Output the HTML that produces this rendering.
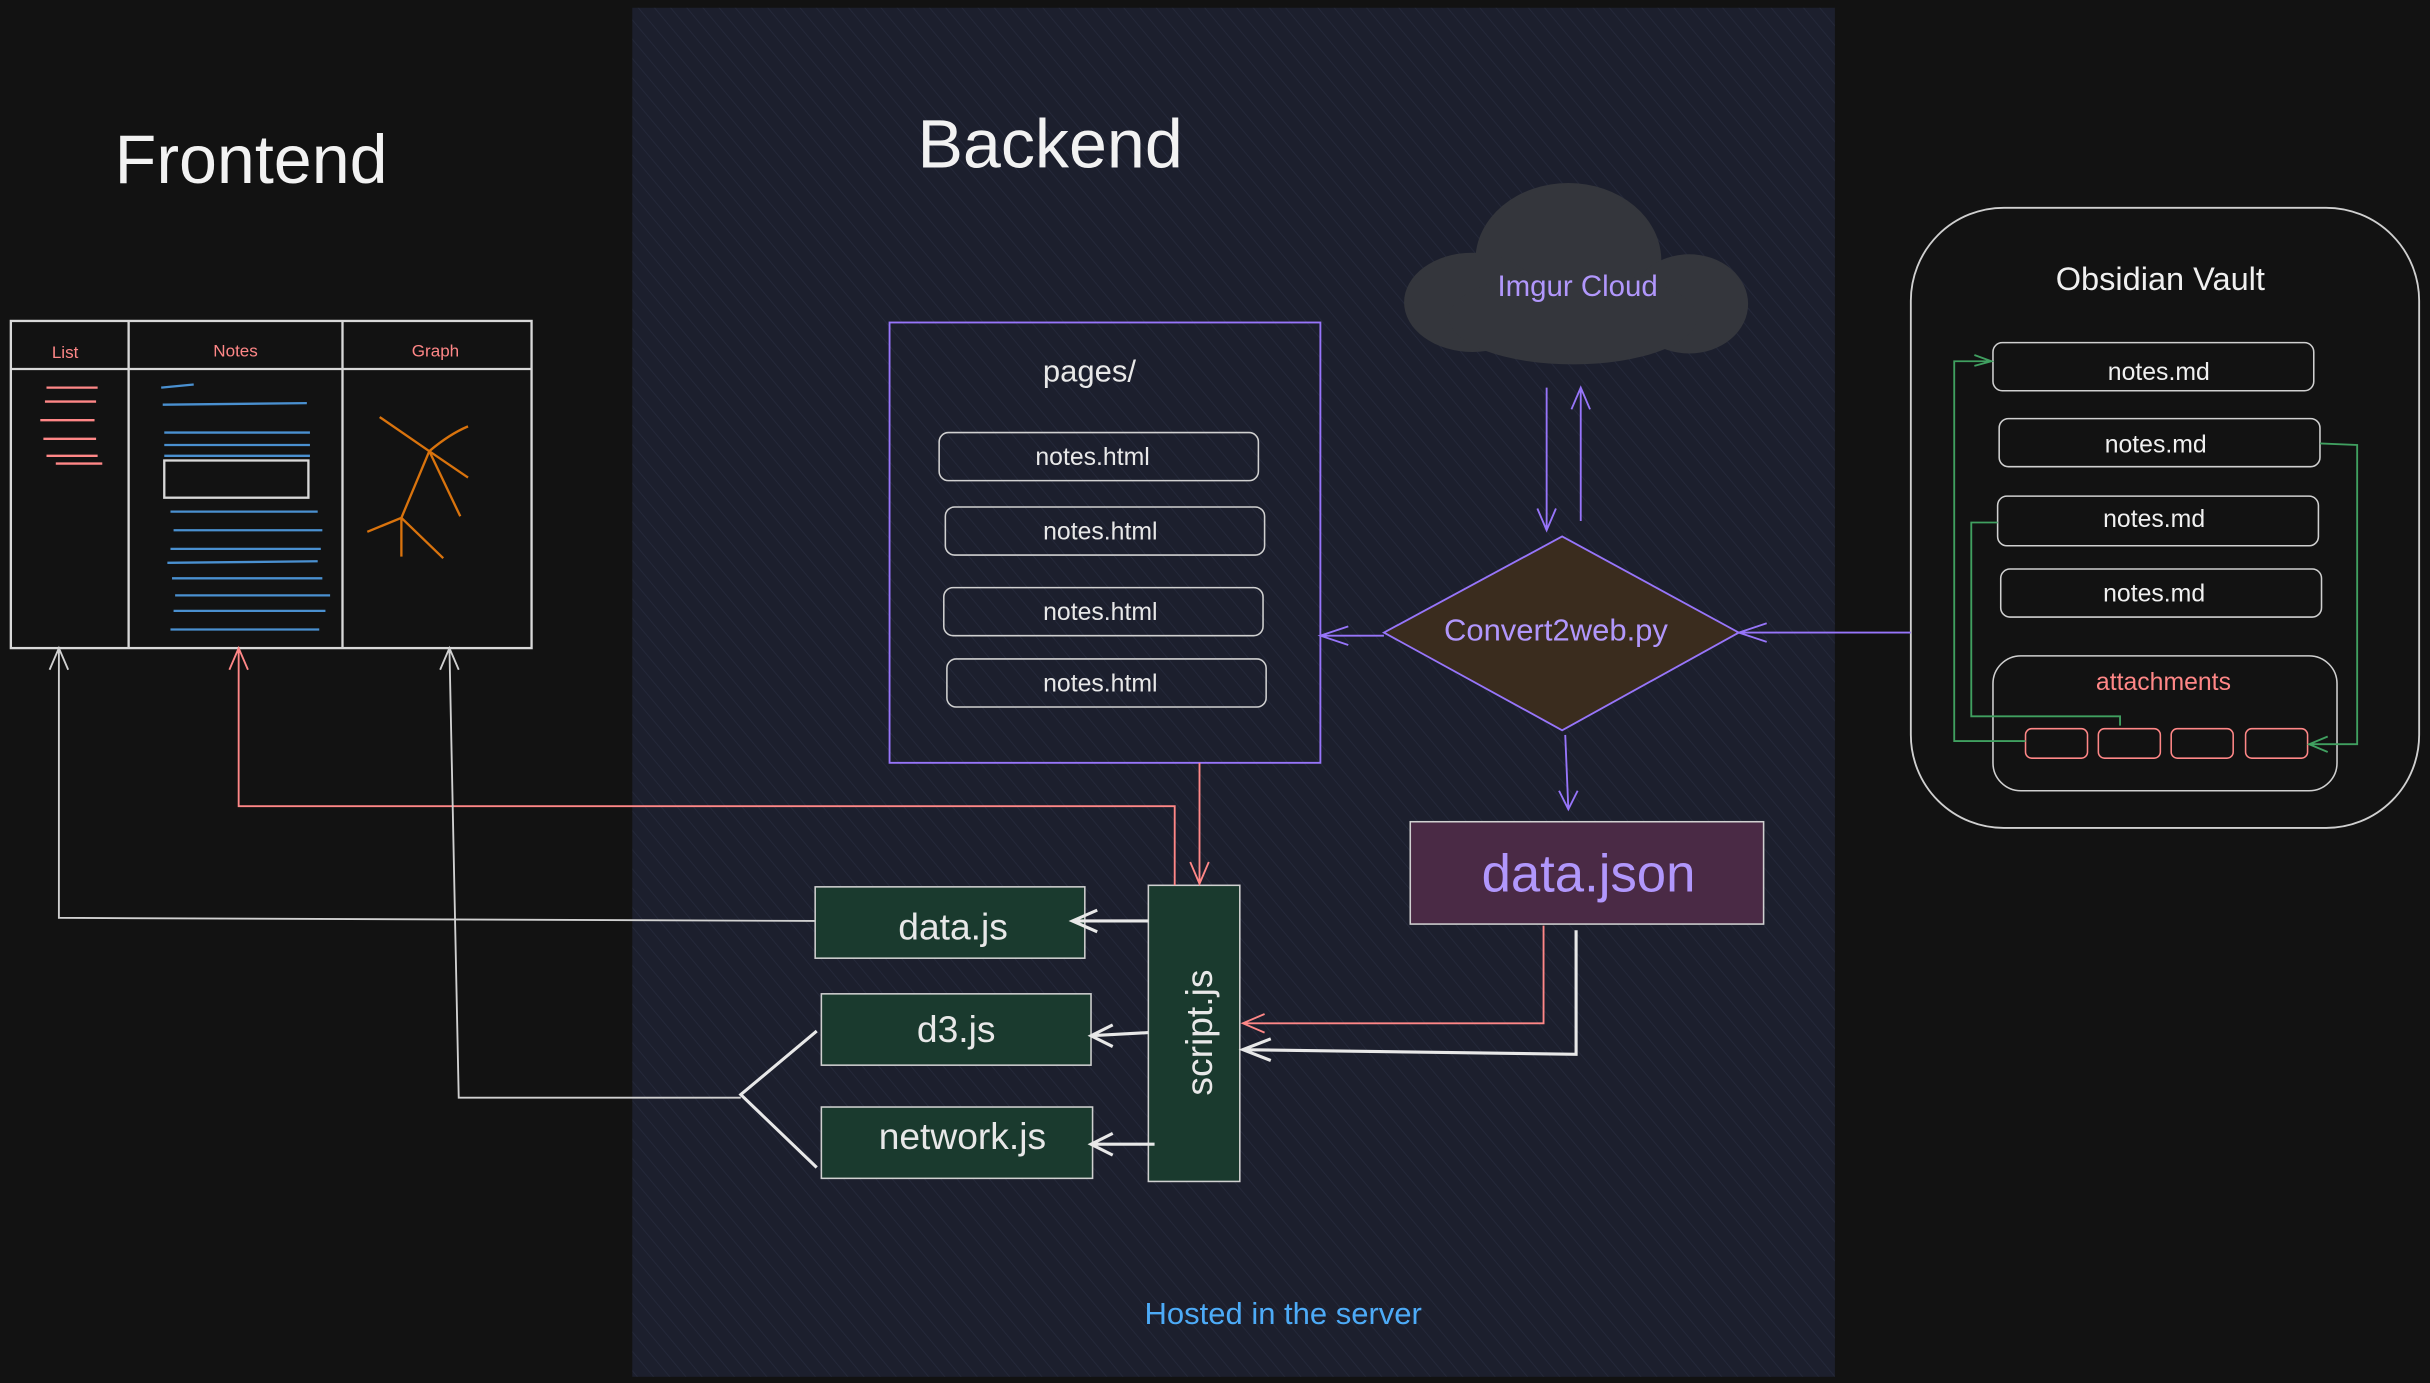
<!DOCTYPE html>
<html><head><meta charset="utf-8"><style>
html,body{margin:0;padding:0;background:#121212;}
svg{display:block;}
text{font-family:"Liberation Sans",sans-serif;}
</style></head><body>
<svg width="2430" height="1383" viewBox="0 0 1568 892" preserveAspectRatio="none" xmlns="http://www.w3.org/2000/svg">
<defs>
<pattern id="hatch" width="8" height="8" patternUnits="userSpaceOnUse" patternTransform="rotate(-40)">
<rect width="8" height="8" fill="#1c1f2d"/>
<line x1="0" y1="0" x2="0" y2="8" stroke="#262a3c" stroke-width="1"/>
</pattern>
</defs>
<rect width="1568" height="892" fill="#121212"/>
<rect x="408" y="5" width="776" height="883" fill="url(#hatch)"/>

<text x="74" y="118" font-size="44" fill="#f2f2f2">Frontend</text>
<text x="592" y="108" font-size="44" fill="#f2f2f2">Backend</text>

<!-- frontend -->
<g fill="none" stroke="#d8d8d8" stroke-width="1.5">
<rect x="7" y="207" width="336" height="211"/>
<line x1="7" y1="238" x2="343" y2="238"/>
<line x1="83" y1="207" x2="83" y2="418"/>
<line x1="221" y1="207" x2="221" y2="418"/>
<rect x="106" y="297" width="93" height="24"/>
</g>
<text x="42" y="231" font-size="11" fill="#ff8787" text-anchor="middle">List</text>
<text x="152" y="230" font-size="11" fill="#ff8787" text-anchor="middle">Notes</text>
<text x="281" y="230" font-size="11" fill="#ff8787" text-anchor="middle">Graph</text>
<g stroke="#ff8787" stroke-width="1.5">
<line x1="30" y1="250" x2="63" y2="250"/><line x1="29" y1="259" x2="62" y2="259"/>
<line x1="26" y1="271" x2="61" y2="271"/><line x1="28" y1="283" x2="62" y2="283"/>
<line x1="30" y1="294" x2="63" y2="294"/><line x1="36" y1="299" x2="66" y2="299"/>
</g>
<g stroke="#4a90d0" stroke-width="1.5">
<line x1="104" y1="250" x2="125" y2="248"/><line x1="105" y1="261" x2="198" y2="260"/>
<line x1="106" y1="279" x2="200" y2="279"/><line x1="106" y1="294" x2="200" y2="294"/>
<line x1="106" y1="287" x2="200" y2="287"/>
<line x1="110" y1="330" x2="205" y2="330"/><line x1="112" y1="342" x2="208" y2="342"/>
<line x1="110" y1="354" x2="207" y2="354"/><line x1="108" y1="363" x2="205" y2="362"/>
<line x1="111" y1="373" x2="208" y2="373"/><line x1="113" y1="384" x2="213" y2="384"/>
<line x1="112" y1="394" x2="210" y2="394"/><line x1="110" y1="406" x2="206" y2="406"/>
</g>
<g stroke="#d9730d" stroke-width="1.5" fill="none">
<path d="M245 269 L277 291 Q290 280 302 275"/><path d="M277 291 L302 308"/>
<path d="M277 291 L297 333"/><path d="M277 291 L259 334 L237 343"/>
<path d="M259 334 L259 359"/><path d="M259 334 L286 360"/>
</g>

<!-- pages -->
<rect x="574" y="208" width="278" height="284" fill="none" stroke="#9775fa" stroke-width="1.2"/>
<text x="703" y="246" font-size="20" fill="#e8e8e8" text-anchor="middle">pages/</text>
<g fill="none" stroke="#d0d0d0" stroke-width="1">
<rect x="606" y="279" width="206" height="31" rx="6"/>
<rect x="610" y="327" width="206" height="31" rx="6"/>
<rect x="609" y="379" width="206" height="31" rx="6"/>
<rect x="611" y="425" width="206" height="31" rx="6"/>
</g>
<g font-size="16" fill="#e8e8e8" text-anchor="middle">
<text x="705" y="300">notes.html</text><text x="710" y="348">notes.html</text>
<text x="710" y="400">notes.html</text><text x="710" y="446">notes.html</text>
</g>

<!-- cloud -->
<g fill="#34363c">
<ellipse cx="1012" cy="168" rx="60" ry="50"/>
<ellipse cx="950" cy="195" rx="44" ry="32"/>
<ellipse cx="1090" cy="196" rx="38" ry="32"/>
<ellipse cx="1015" cy="205" rx="80" ry="30"/>
</g>
<text x="1018" y="191" font-size="19" fill="#b197fc" text-anchor="middle">Imgur Cloud</text>

<!-- diamond -->
<polygon points="1008,346 1122,408 1008,471 893,408" fill="#3a2c1e" stroke="#9775fa" stroke-width="1.2"/>
<text x="1004" y="413" font-size="20" fill="#b197fc" text-anchor="middle">Convert2web.py</text>

<!-- data.json -->
<rect x="910" y="530" width="228" height="66" fill="#4a2a45" stroke="#d0d0d0" stroke-width="1"/>
<text x="1025" y="575" font-size="34" fill="#b197fc" text-anchor="middle">data.json</text>

<!-- script & js -->
<g fill="#1a3a2e" stroke="#d0d0d0" stroke-width="1">
<rect x="741" y="571" width="59" height="191"/>
<rect x="526" y="572" width="174" height="46"/>
<rect x="530" y="641" width="174" height="46"/>
<rect x="530" y="714" width="175" height="46"/>
</g>
<text transform="translate(782,666) rotate(-90)" font-size="24" fill="#e8e8e8" text-anchor="middle">script.js</text>
<g font-size="24" fill="#e8e8e8" text-anchor="middle">
<text x="615" y="606">data.js</text><text x="617" y="672">d3.js</text><text x="621" y="741">network.js</text>
</g>

<!-- vault -->
<rect x="1233" y="134" width="328" height="400" rx="60" fill="#121212" stroke="#d0d0d0" stroke-width="1.2"/>
<text x="1394" y="187" font-size="21" fill="#f0f0f0" text-anchor="middle">Obsidian Vault</text>
<g fill="none" stroke="#d0d0d0" stroke-width="1">
<rect x="1286" y="221" width="207" height="31" rx="6"/>
<rect x="1290" y="270" width="207" height="31" rx="6"/>
<rect x="1289" y="320" width="207" height="32" rx="6"/>
<rect x="1291" y="367" width="207" height="31" rx="6"/>
<rect x="1286" y="423" width="222" height="87" rx="18"/>
</g>
<g font-size="16" fill="#f0f0f0" text-anchor="middle">
<text x="1393" y="245">notes.md</text><text x="1391" y="292">notes.md</text>
<text x="1390" y="340">notes.md</text><text x="1390" y="388">notes.md</text>
</g>
<text x="1396" y="445" font-size="16" fill="#ff8787" text-anchor="middle">attachments</text>
<g fill="none" stroke="#ff8787" stroke-width="1">
<rect x="1307" y="470" width="40" height="19" rx="4"/><rect x="1354" y="470" width="40" height="19" rx="4"/>
<rect x="1401" y="470" width="40" height="19" rx="4"/><rect x="1449" y="470" width="40" height="19" rx="4"/>
</g>
<g fill="none" stroke="#40a060" stroke-width="1.2">
<path d="M1307 478 L1261 478 L1261 233 L1285 233 M1274 229 L1285 233 L1274 236"/>
<path d="M1289 337 L1272 337 L1272 462 L1368 462 L1368 468"/>
<path d="M1497 286 L1521 287 L1521 480 L1490 480 M1502 475 L1490 480 L1502 485"/>
</g>

<!-- arrows -->
<g fill="none" stroke-width="1.2">
<path d="M1233 408 L1122 408 M1140 402 L1122 408 L1140 414" stroke="#9775fa"/>
<path d="M893 410 L852 410 M870 404 L852 410 L870 416" stroke="#9775fa"/>
<path d="M998 250 L998 342 M992 328 L998 342 L1004 328" stroke="#9775fa"/>
<path d="M1020 336 L1020 250 M1014 264 L1020 250 L1026 264" stroke="#9775fa"/>
<path d="M1010 474 L1012 522 M1006 510 L1012 522 L1018 510" stroke="#9775fa"/>
<path d="M774 492 L774 570 M768 556 L774 570 L780 556" stroke="#ff8787"/>
<path d="M758 571 L758 520 L154 520 L154 418 M148 432 L154 418 L160 432" stroke="#ff8787"/>
<path d="M996 597 L996 660 L802 660 M816 654 L802 660 L816 666" stroke="#ff8787"/>
<path d="M1017 600 L1017 680 L802 677 M820 670 L802 677 L820 684" stroke="#e8e8e8" stroke-width="2"/>
<path d="M741 594 L692 594 M708 587 L692 594 L708 601" stroke="#e8e8e8" stroke-width="2"/>
<path d="M741 666 L704 668 M718 661 L704 668 L718 675" stroke="#e8e8e8" stroke-width="2"/>
<path d="M745 738 L704 738 M718 731 L704 738 L718 745" stroke="#e8e8e8" stroke-width="2"/>
<path d="M526 594 L38 592 L38 418 M32 432 L38 418 L44 432" stroke="#d0d0d0"/>
<path d="M527 665 L478 706 L527 753" stroke="#e8e8e8" stroke-width="2"/>
<path d="M478 708 L296 708 L290 418 M284 432 L290 418 L296 432" stroke="#d0d0d0"/>
</g>

<text x="828" y="854" font-size="20" fill="#4dabf7" text-anchor="middle">Hosted in the server</text>
</svg>
</body></html>
